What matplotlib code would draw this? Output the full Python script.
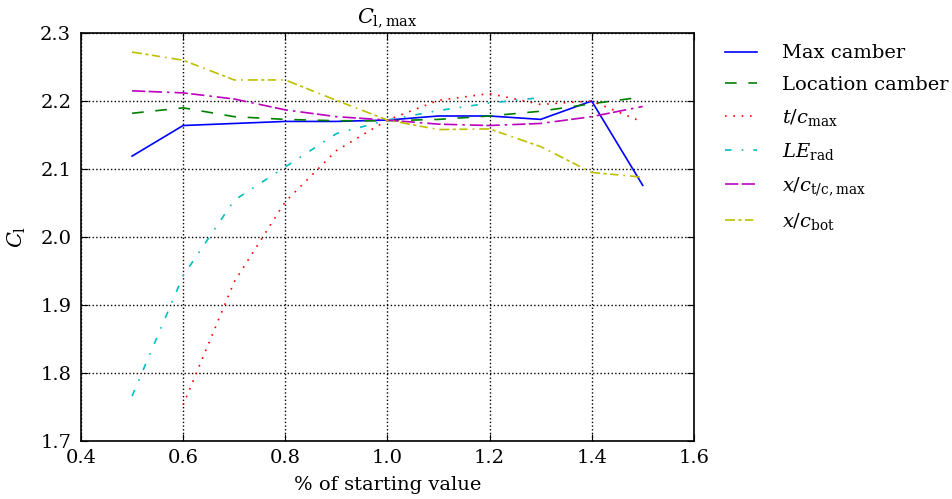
import matplotlib
matplotlib.use('Agg')
import matplotlib.pyplot as plt
import numpy as np

plt.rcParams['font.family'] = 'DejaVu Serif'
plt.rcParams['mathtext.fontset'] = 'dejavuserif'
plt.rcParams['font.size'] = 14

# fraction of the starting value of each design parameter
x = [0.5, 0.6, 0.7, 0.8, 0.9, 1.0, 1.1, 1.2, 1.3, 1.4, 1.5]

max_camber = [2.119, 2.164, 2.167, 2.170, 2.170, 2.172, 2.178, 2.178, 2.173, 2.200, 2.076]
loc_camber = [2.182, 2.190, 2.177, 2.173, 2.171, 2.171, 2.173, 2.178, 2.185, 2.196, 2.206]
tc_max     = [None, 1.753, 1.934, 2.052, 2.127, 2.172, 2.201, 2.211, 2.195, 2.200, 2.169]
le_rad     = [1.766, 1.943, 2.054, 2.103, 2.152, 2.172, 2.186, 2.197, 2.205, None, None]
xc_tcmax   = [2.215, 2.212, 2.203, 2.187, 2.177, 2.172, 2.166, 2.164, 2.167, 2.177, 2.192]
xc_bot     = [2.272, 2.260, 2.231, 2.231, 2.201, 2.172, 2.158, 2.159, 2.133, 2.095, 2.088]

labels = ['Max camber', 'Location camber', r'$t/c_{\mathrm{max}}$',
          r'$LE_{\mathrm{rad}}$', r'$x/c_{\mathrm{t/c,max}}$', r'$x/c_{\mathrm{bot}}$']

def arr(v):
    return np.array([np.nan if a is None else a for a in v], dtype=float)

fig = plt.figure(figsize=(9.53, 4.99), dpi=100)
ax = fig.add_axes([0.085, 0.1162, 0.643, 0.8176])

lw = 1.2
ax.plot(x, arr(max_camber), color='b', lw=lw, label=labels[0])
ax.plot(x, arr(loc_camber), color='g', lw=lw, dashes=(7, 7), label=labels[1])
ax.plot(x, arr(tc_max), color='r', lw=lw, dashes=(1, 4), label=labels[2])
ax.plot(x, arr(le_rad), color='c', lw=lw, dashes=(4, 6, 1, 6), label=labels[3])
ax.plot(x, arr(xc_tcmax), color='m', lw=lw, dashes=(8, 2, 8, 3, 1.5, 3), label=labels[4])
ax.plot(x, arr(xc_bot), color='y', lw=lw, dashes=(6, 2, 2, 2, 5, 3, 1, 3), label=labels[5])

ax.set_xlim(0.4, 1.6)
ax.set_ylim(1.7, 2.3)
ax.set_xticks(np.arange(0.4, 1.61, 0.2))
ax.set_yticks(np.arange(1.7, 2.31, 0.1))
ax.xaxis.set_major_formatter(matplotlib.ticker.FormatStrFormatter('%.1f'))
ax.yaxis.set_major_formatter(matplotlib.ticker.FormatStrFormatter('%.1f'))
ax.tick_params(direction='in', top=True, right=True, length=5)
ax.tick_params(axis='x', pad=6)
ax.tick_params(axis='y', pad=7)
ax.grid(True, color='k', linestyle=':', lw=1)
for s in ax.spines.values():
    s.set_linewidth(1.2)

ax.set_title(r'$C_{\mathrm{l,max}}$', fontsize=15, pad=8)
ax.set_xlabel('% of starting value', labelpad=6)
ax.set_ylabel(r'$C_{\mathrm{l}}$', fontsize=15, labelpad=9)

ax.legend(loc='upper left', bbox_to_anchor=(1.022, 1.015), frameon=False,
          handlelength=1.65, handletextpad=1.3, labelspacing=0.68)

fig.savefig('out.png', dpi=100)
